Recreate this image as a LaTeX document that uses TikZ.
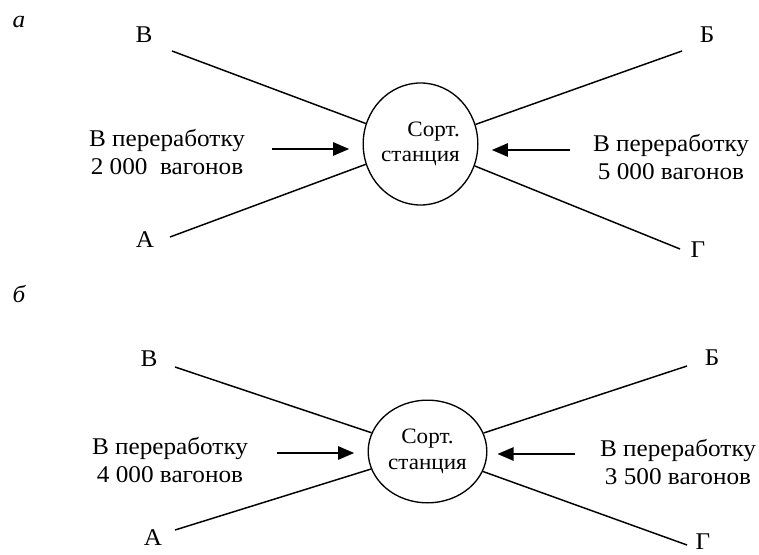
\documentclass[tikz,border=0pt]{standalone}
\usepackage{fontspec}
\setmainfont{Liberation Serif}[FakeStretch=1.05]
\usetikzlibrary{arrows.meta,shapes.geometric}

\begin{document}
\begin{tikzpicture}[x=0.75pt,y=-0.75pt,>={Triangle[length=12pt,width=10pt]},
    track/.style={line width=1.1pt},
    flow/.style={->,line width=1.1pt,shorten >=10pt},
    txt/.style={font=\fontsize{18}{20.5}\selectfont,align=center,inner sep=0pt},
    lbl/.style={font=\fontsize{18}{20}\selectfont,inner sep=0pt,anchor=base},
    yard/.style={draw,ellipse,line width=1pt,inner sep=0pt,align=center,
        font=\fontsize{16.5}{19}\selectfont}]

        \useasboundingbox (0,0) rectangle (759,555);

        % Top scheme
        \node[lbl,font=\fontsize{18}{20}\selectfont\itshape] (capa) at (19,28) {а};

        \node[yard,minimum width=86pt,minimum height=91.5pt,align=right] (staA)
            at (420.5,144) {Сорт.\\станция};

        \node[lbl] (vA) at (144,43) {В};
        \node[lbl] (aA) at (145,248) {А};
        \node[lbl] (bA) at (707,43) {Б};
        \node[lbl] (gA) at (698,258) {Г};

        \coordinate (tV) at (172,51);
        \coordinate (tA) at (170,237);
        \coordinate (tB) at (682,51);
        \coordinate (tG) at (680,249);

        \draw[track] (tV) -- (staA);
        \draw[track] (tA) -- (staA);
        \draw[track] (tB) -- (staA);
        \draw[track] (tG) -- (staA);

        \node[txt] (wL) at (167,152) {В переработку\\2~000\ \ вагонов};
        \node[txt] (wR) at (671,157) {В переработку\\5~000 вагонов};

        \coordinate (inLA) at (272,149);
        \coordinate (inRA) at (570,150);
        \draw[flow] (inLA) -- (inLA -| staA.west);
        \draw[flow] (inRA) -- (inRA -| staA.east);

        % Bottom scheme
        \node[lbl,font=\fontsize{18}{20}\selectfont\itshape] (capb) at (19,303) {б};

        \node[yard,minimum width=89pt,minimum height=77pt] (staB)
            at (427.5,451.5) {Сорт.\\станция};

        \node[lbl] (vB) at (149,367) {В};
        \node[lbl] (aB) at (153,545) {А};
        \node[lbl] (bB) at (712,365) {Б};
        \node[lbl] (gB) at (703,549) {Г};

        \coordinate (bV) at (175,367);
        \coordinate (bA) at (175,530);
        \coordinate (bB) at (687,366);
        \coordinate (bG) at (687,545);

        \draw[track] (bV) -- (staB);
        \draw[track] (bA) -- (staB);
        \draw[track] (bB) -- (staB);
        \draw[track] (bG) -- (staB);

        \node[txt] (wLb) at (170,460) {В переработку\\4~000 вагонов};
        \node[txt] (wRb) at (678,462) {В переработку\\3~500 вагонов};

        \coordinate (inLB) at (277,453);
        \coordinate (inRB) at (575,454);
        \draw[flow] (inLB) -- (inLB -| staB.west);
        \draw[flow,shorten >=7.5pt] (inRB) -- (inRB -| staB.east);

    \end{tikzpicture}
\end{document}
